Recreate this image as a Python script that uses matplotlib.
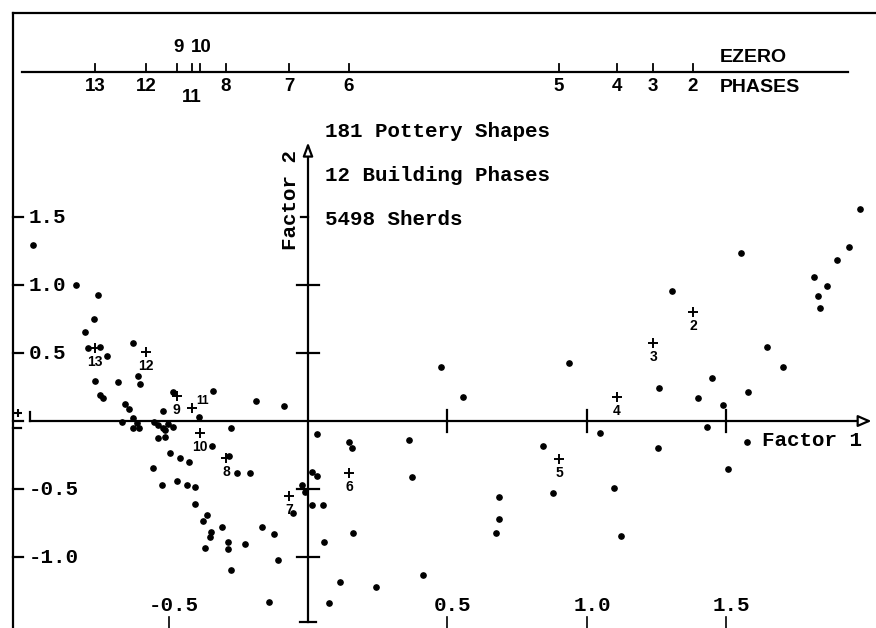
import matplotlib.pyplot as plt
import numpy as np

# correspondence analysis, Ezero pottery: factor 1 / factor 2 scores
shape_f1 = [-0.986, -0.832, -0.753, -0.767, -0.799, -0.789, -0.746, -0.72, -0.763, -0.746,
            -0.735, -0.681, -0.627, -0.609, -0.602, -0.656, -0.642, -0.667, -0.627, -0.613,
            -0.627, -0.606, -0.52, -0.552, -0.538, -0.52, -0.502, -0.484, -0.513, -0.538,
            -0.513, -0.484, -0.391, -0.341, -0.276, -0.186, -0.086, 0.032, -0.344, -0.495,
            -0.459, -0.427, -0.556, -0.523, -0.47, -0.434, -0.405, -0.405, -0.376, -0.362,
            -0.348, -0.351, -0.369, -0.308, -0.287, -0.287, -0.226, -0.276, -0.165, -0.122,
            -0.108, -0.14, -0.283, -0.254, -0.208, -0.054, -0.022, -0.011, 0.032, 0.014,
            0.014, 0.054, 0.147, 0.158, 0.362, 0.373, 0.161, 0.057, 0.115, 0.075,
            0.244, 0.412, 0.685, 0.685, 0.674, 0.842, 0.878, 1.047, 0.477, 0.556,
            0.935, 1.305, 1.552, 1.978, 1.939, 1.896, 1.814, 1.86, 1.828, 1.835,
            1.645, 1.703, 1.258, 1.448, 1.398, 1.487, 1.577, 1.43, 1.254, 1.573,
            1.505, 1.097, 1.122]
shape_f2 = [1.294, 1.0, 0.926, 0.75, 0.654, 0.537, 0.544, 0.478, 0.294, 0.191,
            0.169, 0.287, 0.574, 0.331, 0.272, 0.125, 0.088, -0.007, 0.022, -0.015,
            -0.051, -0.051, 0.074, -0.007, -0.029, -0.051, -0.022, -0.044, -0.066, -0.125,
            -0.118, 0.213, 0.029, 0.221, -0.051, 0.147, 0.11, -0.096, -0.184, -0.235,
            -0.272, -0.301, -0.346, -0.471, -0.441, -0.471, -0.485, -0.61, -0.735, -0.691,
            -0.816, -0.853, -0.934, -0.779, -0.89, -0.941, -0.904, -1.096, -0.779, -0.831,
            -1.022, -1.331, -0.257, -0.382, -0.382, -0.676, -0.471, -0.522, -0.404, -0.375,
            -0.618, -0.618, -0.154, -0.199, -0.14, -0.412, -0.824, -0.89, -1.184, -1.338,
            -1.221, -1.132, -0.559, -0.721, -0.824, -0.184, -0.529, -0.088, 0.397, 0.176,
            0.426, 0.956, 1.235, 1.559, 1.279, 1.184, 1.059, 0.993, 0.919, 0.831,
            0.544, 0.397, 0.243, 0.316, 0.169, 0.118, 0.213, -0.044, -0.199, -0.154,
            -0.353, -0.493, -0.846]

phase_ids = [2, 3, 4, 5, 6, 7, 8, 9, 10, 11, 12, 13]
phase_f1 = [1.38, 1.237, 1.108, 0.90, 0.147, -0.068, -0.294, -0.47, -0.387, -0.416, -0.581, -0.763]
phase_f2 = [0.80, 0.574, 0.176, -0.279, -0.382, -0.551, -0.272, 0.184, -0.088, 0.096, 0.507, 0.537]

axis_ticks_x = [-0.5, 0.5, 1.0, 1.5]
axis_ticks_y = [-1.0, -0.5, 0.5, 1.0, 1.5]
info_lines = ['181 Pottery Shapes', '12 Building Phases', '5498 Sherds']

mono = dict(family='Liberation Mono', weight='bold', color='black')
sans = dict(family='Liberation Sans', weight='bold', color='black')

fig = plt.figure(figsize=(8.76, 6.28), dpi=100)
ax = fig.add_axes([0, 0, 1, 1])
ax.set_xlim(-1.104, 2.036)
ax.set_ylim(-1.522, 3.096)
ax.axis('off')
lw = 1.6

# frame (left and top)
ax.plot([-1.057, -1.057], [-1.53, 3.0], color='k', lw=lw)
ax.plot([-1.057, 2.04], [3.0, 3.0], color='k', lw=lw)

# left frame ticks + labels
for v in axis_ticks_y + [0.0]:
    ax.plot([-1.057, -1.022], [v, v], color='k', lw=lw)
for v in axis_ticks_y:
    ax.text(-1.0, v, f'{v:.1f}', ha='left', va='center', fontsize=15, **mono)
ax.plot([-1.057, -1.03], [-0.05, -0.05], color='k', lw=lw)
ax.plot([-1.039], [0.06], marker='+', color='k', ms=6, mew=1.5)

# factor 1 axis
ax.plot([-0.996, 2.0], [0, 0], color='k', lw=lw)
ax.plot([-0.996, -0.996], [0, 0.07], color='k', lw=lw)
ax.annotate('', xy=(2.03, 0), xytext=(1.98, 0),
            arrowprops=dict(arrowstyle='-|>,head_length=0.8,head_width=0.35', fc='white', ec='k', lw=lw))
for v in axis_ticks_x[1:]:
    ax.plot([v, v], [-0.08, 0.08], color='k', lw=lw)
ax.text(1.627, -0.14, 'Factor 1', ha='left', va='center', fontsize=15, **mono)

# factor 2 axis
ax.plot([0, 0], [-1.48, 2.0], color='k', lw=lw)
ax.annotate('', xy=(0, 2.07), xytext=(0, 1.95),
            arrowprops=dict(arrowstyle='-|>,head_length=0.8,head_width=0.3', fc='white', ec='k', lw=lw))
for v in axis_ticks_y:
    if v == 1.5:
        ax.plot([-0.025, 0], [v, v], color='k', lw=lw)
    else:
        ax.plot([-0.04, 0.04], [v, v], color='k', lw=lw)
ax.plot([-0.03, 0.03], [-1.48, -1.48], color='k', lw=lw)
ax.text(-0.061, 1.625, 'Factor 2', rotation=90, ha='center', va='center', fontsize=15, **mono)

# bottom tick labels
for v in axis_ticks_x:
    ax.text(v + 0.018, -1.36, f'{v:.1f}', ha='center', va='center', fontsize=15, **mono)
    ax.plot([v, v], [-1.44, -1.53], color='k', lw=1.2)

# info text
for i, s in enumerate(info_lines):
    ax.text(0.061, 2.132 - i * 0.325, s, ha='left', va='center', fontsize=15, **mono)

# shapes
ax.plot(shape_f1, shape_f2, 'o', color='k', ms=3.8, mec='k')

# phase centroids
for pid, x, y in zip(phase_ids, phase_f1, phase_f2):
    ax.plot(x, y, marker='+', color='k', ms=6.5, mew=1.4)
    if pid == 11:
        ax.annotate(str(pid), (x, y), xytext=(8, 5), textcoords='offset points',
                    ha='center', va='center', fontsize=8.5, **sans)
    else:
        ax.annotate(str(pid), (x, y), xytext=(0, -10), textcoords='offset points',
                    ha='center', va='center', fontsize=10, **sans)

# EZERO phases scale on top
top_y = 2.566
ax.plot([-1.025, 1.935], [top_y, top_y], color='k', lw=lw)
for pid, x in zip(phase_ids, phase_f1):
    ax.plot([x, x], [top_y, top_y + 0.06], color='k', lw=1.3)
    if pid in (9, 10):
        ax.text(x + 0.005, 2.75, str(pid), ha='center', va='center', fontsize=13.5, **sans)
    elif pid == 11:
        ax.text(x, 2.382, str(pid), ha='center', va='center', fontsize=13.5, **sans)
    else:
        ax.text(x, 2.463, str(pid), ha='center', va='center', fontsize=13.5, **sans)
ax.text(1.475, 2.676, 'EZERO', ha='left', va='center', fontsize=14, **sans)
ax.text(1.475, 2.449, 'PHASES', ha='left', va='center', fontsize=14, **sans)

fig.savefig('out.png', dpi=100)
